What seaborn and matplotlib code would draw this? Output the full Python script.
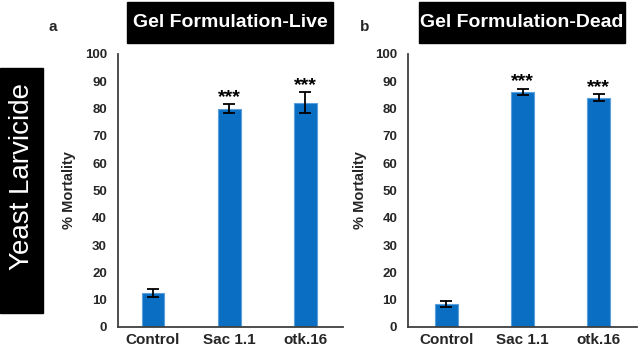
import matplotlib
matplotlib.use("Agg")
import matplotlib.pyplot as plt
from matplotlib.patches import Rectangle
import seaborn as sns
import pandas as pd
import numpy as np

categories = ["Control", "Sac 1.1", "otk.16"]
live_mean = [12.3, 80.0, 82.2]
live_err = [1.5, 1.5, 3.7]
dead_mean = [8.4, 86.2, 84.0]
dead_err = [1.2, 1.1, 1.2]
stars = ["", "***", "***"]
yticks = [0, 10, 20, 30, 40, 50, 60, 70, 80, 90, 100]

bar_color = "#0A6FC2"

sns.set_style("white")
plt.rcParams["font.family"] = ["Liberation Sans", "DejaVu Sans"]

fig = plt.figure(figsize=(6.38, 3.46), dpi=100)
ax_l = fig.add_axes([0.185, 0.055, 0.353, 0.789])
ax_r = fig.add_axes([0.640, 0.055, 0.358, 0.789])


def panel(ax, means, errs, xlim):
    df = pd.DataFrame({"group": categories, "value": means})
    sns.barplot(data=df, x="group", y="value", color=bar_color, width=0.3,
                edgecolor="#5AA0DC", linewidth=0.8, saturation=1, ax=ax)
    ax.errorbar(np.arange(len(categories)), means, yerr=errs, fmt="none",
                ecolor="black", elinewidth=1.3, capsize=4, capthick=1.3)
    for i, s in enumerate(stars):
        if s:
            ax.text(i, means[i] + errs[i] - 0.5, s, ha="center", va="bottom",
                    fontsize=14, fontweight="bold", color="black")
    ax.set_ylim(0, 100)
    ax.set_xlim(*xlim)
    ax.set_yticks(yticks)
    ax.set_yticklabels([str(t) for t in yticks], fontsize=9.5, fontweight="bold")
    ax.set_xticks(range(len(categories)))
    ax.set_xticklabels(categories, fontsize=11, fontweight="bold")
    ax.tick_params(axis="y", length=0, pad=8)
    ax.tick_params(axis="x", length=0, pad=4)
    ax.set_xlabel("")
    ax.set_ylabel("% Mortality", fontsize=10.5, fontweight="bold", labelpad=6)
    for side in ["top", "right"]:
        ax.spines[side].set_visible(False)
    for side in ["left", "bottom"]:
        ax.spines[side].set_color("#404040")
        ax.spines[side].set_linewidth(1.3)


panel(ax_l, live_mean, live_err, (-0.46, 2.5))
panel(ax_r, dead_mean, dead_err, (-0.5, 2.5))

# black title boxes
fig.patches.append(Rectangle((127 / 638, 1 - 43 / 346), 206 / 638, 41 / 346,
                             transform=fig.transFigure, color="black"))
fig.patches.append(Rectangle((419 / 638, 1 - 43 / 346), 206 / 638, 41 / 346,
                             transform=fig.transFigure, color="black"))
fig.patches.append(Rectangle((0, 1 - 313 / 346), 43 / 638, 245 / 346,
                             transform=fig.transFigure, color="black"))

fig.text(0.3605, 0.936, "Gel Formulation-Live", color="white", fontsize=14,
         fontweight="bold", ha="center", va="center")
fig.text(0.818, 0.936, "Gel Formulation-Dead", color="white", fontsize=14,
         fontweight="bold", ha="center", va="center")
fig.text(0.034, 0.49, "Yeast Larvicide", color="white", fontsize=20,
         rotation=90, ha="center", va="center")
fig.text(0.083, 0.922, "a", fontsize=11, fontweight="bold", ha="center", va="center")
fig.text(0.571, 0.922, "b", fontsize=11, fontweight="bold", ha="center", va="center")

fig.savefig("out.png", dpi=100)
